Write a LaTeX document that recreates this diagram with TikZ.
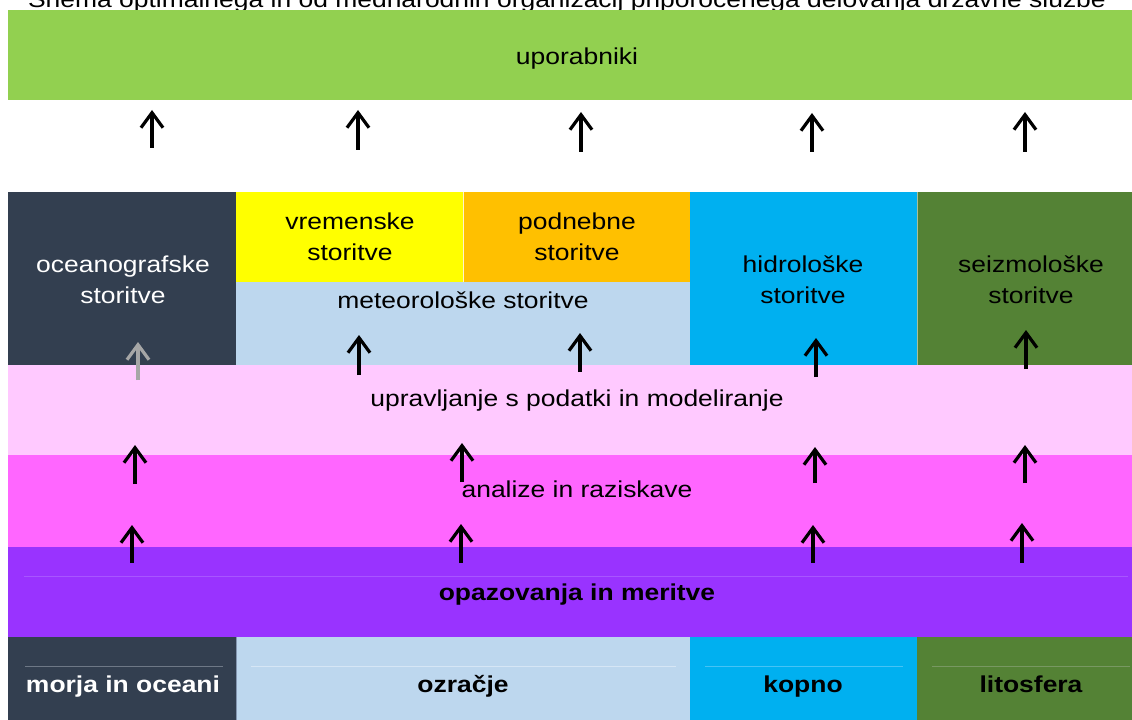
\documentclass[tikz,border=0pt]{standalone}
\usepackage{fontspec}
\setmainfont{Liberation Sans}[FakeStretch=1.15]
\usetikzlibrary{arrows.meta}
\definecolor{cgreen}{HTML}{92D050}
\definecolor{cdark}{HTML}{333F50}
\definecolor{cyellow}{HTML}{FFFF00}
\definecolor{corange}{HTML}{FFC000}
\definecolor{clblue}{HTML}{BDD7EE}
\definecolor{ccyan}{HTML}{00B0F0}
\definecolor{cdgreen}{HTML}{548235}
\definecolor{cpink}{HTML}{FFC9FF}
\definecolor{cmagenta}{HTML}{FF66FF}
\definecolor{cpurple}{HTML}{9933FF}
\definecolor{cgrayarrow}{HTML}{A6A6A6}
\definecolor{cborder}{HTML}{8496B0}
\definecolor{lpurple}{RGB}{168,85,255}
\definecolor{ldark}{RGB}{110,120,134}
\definecolor{lblue}{RGB}{214,230,245}
\definecolor{lcyan}{RGB}{70,195,245}
\definecolor{lgreen}{RGB}{120,152,98}
\newcommand\lstrut{\rule[-6bp]{0pt}{23bp}}
\newcommand\uparr[5]{%
  \coordinate (#1s) at (#2,#3);
  \coordinate (#1e) at (#2,#4);
  \draw[uparrow,#5] (#1s) -- (#1e);}
\tikzset{
  box/.style={rectangle, inner sep=0pt, outer sep=0pt, draw=none, anchor=north west},
  lbl/.style={inner sep=0pt, outer sep=0pt, font=\fontsize{23bp}{31bp}\selectfont, align=center},
  blbl/.style={lbl, font=\fontsize{23bp}{31bp}\selectfont\bfseries},
  uparrow/.style={-{Straight Barb[length=15bp,width=22bp]}, line width=3.2bp, black},
  sepline/.style={line width=1bp},
}
\begin{document}
\begin{tikzpicture}[x=1bp,y=-1bp]
\useasboundingbox (0,0) rectangle (1132,720);
% title (cut off at top)
\node[lbl, anchor=base] (title) at (567,8) {Shema optimalnega in od mednarodnih organizacij priporočenega delovanja državne službe};
% boxes
\node[box, fill=cgreen, minimum width=1124bp, minimum height=90bp] (users) at (8,10) {};
\node[box, fill=cdark, minimum width=228bp, minimum height=173bp] (ocean) at (8,192) {};
\node[box, fill=cyellow, minimum width=227bp, minimum height=90bp] (vrem) at (236,192) {};
\node[box, fill=corange, minimum width=227bp, minimum height=90bp] (podn) at (463,192) {};
\node[box, fill=clblue, minimum width=454bp, minimum height=83bp] (meteo) at (236,282) {};
\node[box, fill=ccyan, minimum width=227bp, minimum height=173bp] (hidro) at (690,192) {};
\node[box, fill=cdgreen, minimum width=215bp, minimum height=173bp] (seizmo) at (917,192) {};
\node[box, fill=cpink, minimum width=1124bp, minimum height=90bp] (uprav) at (8,365) {};
\node[box, fill=cmagenta, minimum width=1124bp, minimum height=92bp] (analize) at (8,455) {};
\node[box, fill=cpurple, minimum width=1124bp, minimum height=90bp] (opaz) at (8,547) {};
\node[box, fill=cdark, minimum width=228bp, minimum height=83bp] (morja) at (8,637) {};
\node[box, fill=clblue, minimum width=454bp, minimum height=83bp] (ozracje) at (236,637) {};
\node[box, fill=ccyan, minimum width=227bp, minimum height=83bp] (kopno) at (690,637) {};
\node[box, fill=cdgreen, minimum width=215bp, minimum height=83bp] (lito) at (917,637) {};
% faint separators
\draw[white, line width=0.8bp, opacity=0.8] (vrem.north east) -- (vrem.south east);
\draw[white, line width=0.8bp, opacity=0.5] (hidro.north east) -- (hidro.south east);
\draw[cborder, line width=1bp] (morja.north east) -- (morja.south east);
\draw[sepline, lpurple] (24,576) -- (1128,576);
\draw[sepline, ldark] (25,666) -- (223,666);
\draw[sepline, lblue] (251,666) -- (676,666);
\draw[sepline, lcyan] (705,666) -- (903,666);
\draw[sepline, lgreen] (932,666) -- (1130,666);
% labels
\node[lbl, anchor=base] (tusers) at (577,65) {uporabniki};
\node[lbl, anchor=north, text=white] (tocean) at (123,255) {\lstrut oceanografske\\\lstrut storitve};
\node[lbl, anchor=north] (tvrem) at (350,212.5) {\lstrut vremenske\\\lstrut storitve};
\node[lbl, anchor=north] (tpodn) at (577,212.5) {\lstrut podnebne\\\lstrut storitve};
\node[lbl, anchor=base] (tmeteo) at (463,308) {meteorološke storitve};
\node[lbl, anchor=north] (thidro) at (803,255) {\lstrut hidrološke\\\lstrut storitve};
\node[lbl, anchor=north] (tseizmo) at (1031,255) {\lstrut seizmološke\\\lstrut storitve};
\node[lbl, anchor=base] (tuprav) at (577,406) {upravljanje s podatki in modeliranje};
\node[lbl, anchor=base] (tanalize) at (577,497) {analize in raziskave};
\node[blbl, anchor=base] (topaz) at (577,600) {opazovanja in meritve};
\node[blbl, anchor=base, text=white] (tmorja) at (123,692) {morja in oceani};
\node[blbl, anchor=base] (tozracje) at (463,692) {ozračje};
\node[blbl, anchor=base] (tkopno) at (803,692) {kopno};
\node[blbl, anchor=base] (tlito) at (1031,692) {litosfera};
% arrows: white gap
\uparr{a1}{152}{148}{110}{}
\uparr{a2}{358}{150}{110}{}
\uparr{a3}{581}{152}{112}{}
\uparr{a4}{812}{152}{113}{}
\uparr{a5}{1025}{152}{112}{}
% arrows into services
\uparr{b1}{138}{380}{342}{cgrayarrow}
\uparr{b2}{359}{375}{335}{}
\uparr{b3}{580}{372}{333}{}
\uparr{b4}{816}{377}{338}{}
\uparr{b5}{1026}{369}{330}{}
% arrows analize -> upravljanje
\uparr{c1}{135}{484}{445}{}
\uparr{c2}{462}{482}{443}{}
\uparr{c3}{815}{483}{447}{}
\uparr{c4}{1025}{483}{445}{}
% arrows opazovanja -> analize
\uparr{d1}{132}{563}{525}{}
\uparr{d2}{461}{563}{524}{}
\uparr{d3}{813}{563}{525}{}
\uparr{d4}{1022}{563}{523}{}
\end{tikzpicture}
\end{document}
